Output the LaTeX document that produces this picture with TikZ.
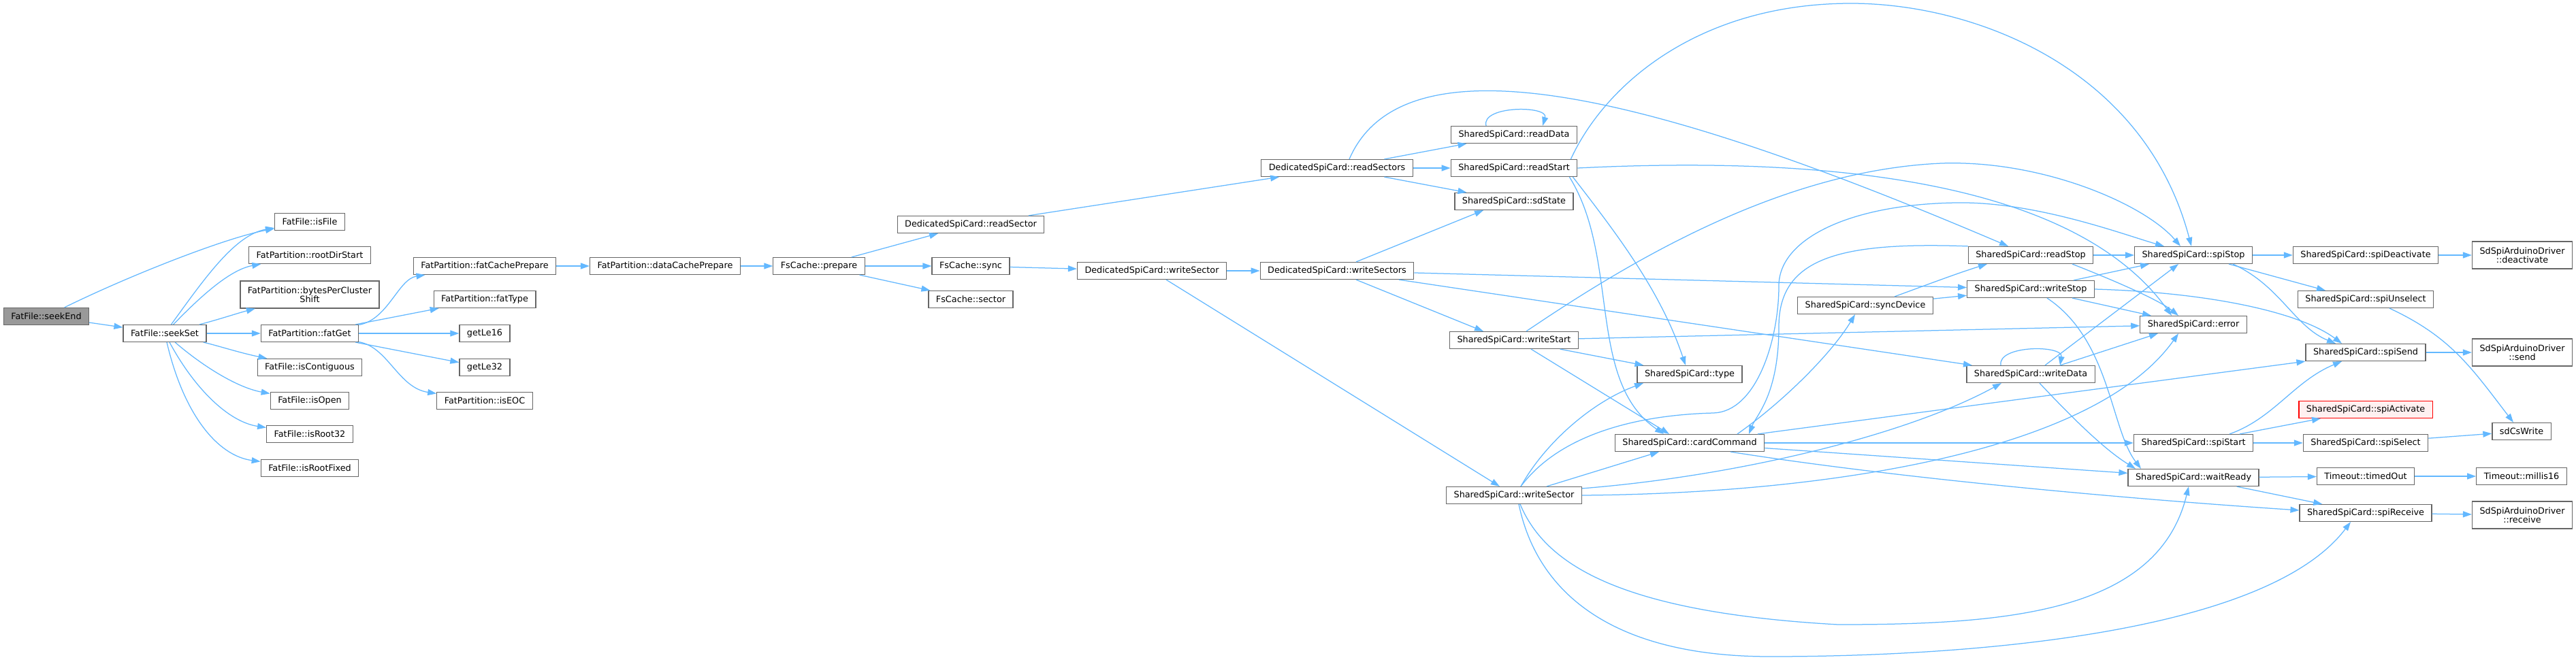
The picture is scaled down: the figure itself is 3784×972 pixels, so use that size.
\documentclass[tikz,border=0pt]{standalone}
\usepackage{fontspec}
\setmainfont{DejaVu Sans}
\usetikzlibrary{arrows.meta}
\definecolor{edgeblue}{HTML}{63B8FF}
\definecolor{boxgrey}{HTML}{666666}
\definecolor{rootgrey}{HTML}{999999}
\definecolor{missred}{HTML}{FF0000}
\definecolor{misspink}{HTML}{FFF0F0}
\tikzset{
  fnbox/.style={draw=boxgrey,fill=white,line width=1.2pt,minimum height=25pt,
    inner xsep=11pt,inner ysep=0pt,align=center,font=\fontsize{12.8pt}{13.5pt}\selectfont},
  fnroot/.style={fnbox,fill=rootgrey},
  fnmissing/.style={fnbox,draw=missred,fill=misspink},
  fntall/.style={fnbox,minimum height=40pt},
  callarrow/.style={-{Triangle[length=13pt,width=9pt]},line width=1.25pt,draw=edgeblue}
}
\begin{document}
\begin{tikzpicture}[x=1pt,y=-1pt]
\path[use as bounding box,fill=white] (0,0) rectangle (3784,972);
\node[fnroot] (seekEnd) at (68,465) {FatFile::seekEnd};
\node[fnbox] (seekSet) at (242,490) {FatFile::seekSet};
\node[fnbox] (isFile) at (455,326) {FatFile::isFile};
\node[fnbox] (rootDirStart) at (455,375) {FatPartition::rootDirStart};
\node[fntall] (bytesPerCluster) at (455,433) {FatPartition::bytesPerCluster\\Shift};
\node[fnbox] (fatGet) at (455,490) {FatPartition::fatGet};
\node[fnbox] (isContiguous) at (455,540) {FatFile::isContiguous};
\node[fnbox] (isOpen) at (455,589) {FatFile::isOpen};
\node[fnbox] (isRoot32) at (455,638) {FatFile::isRoot32};
\node[fnbox] (isRootFixed) at (455,688) {FatFile::isRootFixed};
\node[fnbox] (fatCachePrepare) at (712,391) {FatPartition::fatCachePrepare};
\node[fnbox] (fatType) at (712,440) {FatPartition::fatType};
\node[fnbox] (getLe16) at (712,490) {getLe16};
\node[fnbox] (getLe32) at (712,540) {getLe32};
\node[fnbox] (isEOC) at (712,589) {FatPartition::isEOC};
\node[fnbox] (dataCachePrepare) at (977,391) {FatPartition::dataCachePrepare};
\node[fnbox] (cachePrepare) at (1203,391) {FsCache::prepare};
\node[fnbox] (readSector) at (1426,330) {DedicatedSpiCard::readSector};
\node[fnbox] (cacheSync) at (1426,391) {FsCache::sync};
\node[fnbox] (cacheSector) at (1426,440) {FsCache::sector};
\node[fnbox] (dWriteSector) at (1692,398) {DedicatedSpiCard::writeSector};
\node[fnbox] (readSectors) at (1964,247) {DedicatedSpiCard::readSectors};
\node[fnbox] (writeSectors) at (1964,398) {DedicatedSpiCard::writeSectors};
\node[fnbox] (readData) at (2224,198) {SharedSpiCard::readData};
\node[fnbox] (readStart) at (2224,247) {SharedSpiCard::readStart};
\node[fnbox] (sdState) at (2224,296) {SharedSpiCard::sdState};
\node[fnbox] (writeStart) at (2224,500) {SharedSpiCard::writeStart};
\node[fnbox] (sWriteSector) at (2224,728) {SharedSpiCard::writeSector};
\node[fnbox] (cardType) at (2482,550) {SharedSpiCard::type};
\node[fnbox] (cardCommand) at (2482,651) {SharedSpiCard::cardCommand};
\node[fnbox] (syncDevice) at (2740,449) {SharedSpiCard::syncDevice};
\node[fnbox] (readStop) at (2983,375) {SharedSpiCard::readStop};
\node[fnbox] (writeStop) at (2983,425) {SharedSpiCard::writeStop};
\node[fnbox] (writeData) at (2983,550) {SharedSpiCard::writeData};
\node[fnbox] (spiStop) at (3222,375) {SharedSpiCard::spiStop};
\node[fnbox] (cardError) at (3222,477) {SharedSpiCard::error};
\node[fnbox] (spiStart) at (3222,651) {SharedSpiCard::spiStart};
\node[fnbox] (waitReady) at (3222,702) {SharedSpiCard::waitReady};
\node[fnbox] (spiDeactivate) at (3475,375) {SharedSpiCard::spiDeactivate};
\node[fnbox] (spiUnselect) at (3475,440) {SharedSpiCard::spiUnselect};
\node[fnbox] (spiSend) at (3475,518) {SharedSpiCard::spiSend};
\node[fnmissing] (spiActivate) at (3475,602) {SharedSpiCard::spiActivate};
\node[fnbox] (spiSelect) at (3475,651) {SharedSpiCard::spiSelect};
\node[fnbox] (timedOut) at (3475,700) {Timeout::timedOut};
\node[fnbox] (spiReceive) at (3475,754) {SharedSpiCard::spiReceive};
\node[fntall] (drvDeactivate) at (3705,375) {SdSpiArduinoDriver\\::deactivate};
\node[fntall] (drvSend) at (3705,518) {SdSpiArduinoDriver\\::send};
\node[fnbox] (sdCsWrite) at (3704,634) {sdCsWrite};
\node[fnbox] (millis16) at (3704,700) {Timeout::millis16};
\node[fntall] (drvReceive) at (3705,757) {SdSpiArduinoDriver\\::receive};
% FatFile side
\draw[callarrow] (seekEnd) .. controls (190,405) and (330,350) .. (isFile);
\draw[callarrow] (seekEnd) -- (seekSet);
\draw[callarrow] (seekSet) .. controls (300,410) and (345,345) .. (isFile);
\draw[callarrow] (seekSet) .. controls (300,430) and (340,396) .. (rootDirStart);
\draw[callarrow] (seekSet) .. controls (320,470) and (350,460) .. (bytesPerCluster);
\draw[callarrow] (seekSet) -- (fatGet);
\draw[callarrow] (seekSet) .. controls (320,508) and (350,518) .. (isContiguous);
\draw[callarrow] (seekSet) .. controls (300,540) and (350,570) .. (isOpen);
\draw[callarrow] (seekSet) .. controls (285,570) and (335,620) .. (isRoot32);
\draw[callarrow] (seekSet) .. controls (270,610) and (320,670) .. (isRootFixed);
\draw[callarrow] (fatGet) .. controls (570,470) and (585,410) .. (fatCachePrepare);
\draw[callarrow] (fatGet) -- (fatType);
\draw[callarrow] (fatGet) -- (getLe16);
\draw[callarrow] (fatGet) -- (getLe32);
\draw[callarrow] (fatGet) .. controls (570,510) and (585,570) .. (isEOC);
\draw[callarrow] (fatCachePrepare) -- (dataCachePrepare);
\draw[callarrow] (dataCachePrepare) -- (cachePrepare);
\draw[callarrow] (cachePrepare) -- (readSector);
\draw[callarrow] (cachePrepare) -- (cacheSync);
\draw[callarrow] (cachePrepare) -- (cacheSector);
\draw[callarrow] (cacheSync) -- (dWriteSector);
\draw[callarrow] (readSector) -- (readSectors);
\draw[callarrow] (dWriteSector) -- (writeSectors);
\draw[callarrow] (dWriteSector) -- (sWriteSector);
% dedicated card
\draw[callarrow] (readSectors) -- (readData);
\draw[callarrow] (readSectors) -- (readStart);
\draw[callarrow] (readSectors) -- (sdState);
\draw[callarrow] ([xshift=18pt]readSectors.north) .. controls (2070,30) and (2500,170) .. ([xshift=-33pt]readStop.north);
\draw[callarrow] ([xshift=28pt]writeSectors.north) -- ([xshift=-45pt]sdState.south);
\draw[callarrow] ([xshift=28pt]writeSectors.south) -- ([xshift=-45pt]writeStart.north);
\draw[callarrow] (writeSectors) -- (writeStop);
\draw[callarrow] ([xshift=91pt]writeSectors.south) -- ([xshift=-86pt]writeData.north);
\draw[callarrow] ([xshift=-41pt]readData.north) .. controls +(-8,-30) and +(9,-30) .. ([xshift=42pt]readData.north);
% shared card
\draw[callarrow] ([xshift=-10pt]readStart.north east) .. controls (2360,120) and (2500,5) .. (2719,5)
  .. controls (2900,5) and (3150,100) .. ([xshift=-3pt]spiStop.north);
\draw[callarrow] ([xshift=-12pt]readStart.south east) .. controls (2380,380) and (2330,560) .. ([xshift=-38pt]cardCommand.north);
\draw[callarrow] ([xshift=-7pt]readStart.south east) .. controls (2380,350) and (2440,430) .. ([xshift=-6pt]cardType.north);
\draw[callarrow] (readStart.east) .. controls (2700,228) and (3050,270) .. ([xshift=-32pt]cardError.north);
\draw[callarrow] ([xshift=18pt]writeStart.north) .. controls (2400,380) and (2620,250) .. (2852,240)
  .. controls (3000,235) and (3150,300) .. ([xshift=-19pt]spiStop.north);
\draw[callarrow] (writeStart) -- (cardError);
\draw[callarrow] (writeStart) -- (cardType);
\draw[callarrow] ([xshift=25pt]writeStart.south) -- ([xshift=-30pt]cardCommand.north);
\draw[callarrow] ([xshift=10pt]sWriteSector.north) .. controls (2270,650) and (2340,590) .. ([xshift=-68pt]cardType.south);
\draw[callarrow] ([xshift=48pt]sWriteSector.north) -- ([xshift=-45pt]cardCommand.south);
\draw[callarrow] ([yshift=-3pt]sWriteSector.north east) .. controls (2550,700) and (2800,640) .. ([xshift=-43pt]writeData.south);
\draw[callarrow] (sWriteSector.east) .. controls (2700,725) and (3080,660) .. ([xshift=-22pt]cardError.south);
\draw[callarrow] ([xshift=10pt]sWriteSector.north) .. controls (2290,640) and (2400,610) .. (2517,607)
  .. controls (2580,605) and (2613,500) .. (2613,420)
  .. controls (2613,350) and (2720,300) .. (2874,298)
  .. controls (2990,296) and (3120,345) .. ([xshift=-43pt]spiStop.north);
\draw[callarrow] ([xshift=9pt]sWriteSector.south) .. controls (2270,830) and (2380,900) .. (2700,918)
  .. controls (2950,918) and (3170,900) .. ([xshift=-7pt]waitReady.south);
\draw[callarrow] ([xshift=7pt]sWriteSector.south) .. controls (2260,880) and (2380,965) .. (2600,965)
  .. controls (2900,965) and (3330,930) .. ([xshift=-22pt]spiReceive.south);
\draw[callarrow] ([xshift=70pt]cardCommand.north) .. controls (2620,590) and (2690,520) .. ([xshift=-15pt]syncDevice.south);
\draw[callarrow] (cardCommand) -- (spiStart);
\draw[callarrow] (cardCommand) -- (waitReady);
\draw[callarrow] ([xshift=100pt]cardCommand.north) -- (spiSend.south west);
\draw[callarrow] ([xshift=60pt]cardCommand.south) .. controls (2800,705) and (3150,735) .. ([yshift=4pt]spiReceive.west);
\draw[callarrow] ([xshift=43pt]syncDevice.north) .. controls (2840,415) and (2880,400) .. ([xshift=-64pt]readStop.south);
\draw[callarrow] (syncDevice) -- (writeStop);
\draw[callarrow] (readStop) -- (spiStop);
\draw[callarrow] ([xshift=61pt]readStop.south) .. controls (3100,410) and (3170,440) .. ([xshift=-22pt]cardError.north);
\draw[callarrow] (readStop.north west) .. controls (2700,355) and (2613,380) .. (2613,480)
  .. controls (2613,580) and (2580,610) .. ([xshift=87pt]cardCommand.north);
\draw[callarrow] ([xshift=63pt]writeStop.north) -- ([xshift=-65pt]spiStop.south);
\draw[callarrow] (writeStop.east) .. controls (3250,430) and (3380,460) .. ([xshift=-35pt]spiSend.north);
\draw[callarrow] ([xshift=61pt]writeStop.south) -- ([xshift=-62pt]cardError.north);
\draw[callarrow] ([xshift=24pt]writeStop.south) .. controls (3100,500) and (3100,630) .. ([xshift=-77pt]waitReady.north);
\draw[callarrow] ([xshift=-44pt]writeData.north) .. controls +(-5,-30) and +(5,-30) .. ([xshift=43pt]writeData.north);
\draw[callarrow] ([xshift=21pt]writeData.north) -- ([xshift=-22pt]spiStop.south);
\draw[callarrow] ([xshift=43pt]writeData.north) -- ([xshift=-52pt]cardError.south);
\draw[callarrow] ([xshift=13pt]writeData.south) .. controls (3040,610) and (3090,660) .. ([xshift=-85pt]waitReady.north);
% spi layer
\draw[callarrow] (spiStop) -- (spiDeactivate);
\draw[callarrow] ([xshift=52pt]spiStop.south) -- ([xshift=-59pt]spiUnselect.north);
\draw[callarrow] ([xshift=58pt]spiStop.south) .. controls (3350,420) and (3370,480) .. ([xshift=-44pt]spiSend.north);
\draw[callarrow] ([xshift=68pt]spiStart.north) -- ([xshift=-66pt]spiActivate.south);
\draw[callarrow] (spiStart) -- (spiSelect);
\draw[callarrow] ([xshift=53pt]spiStart.north) .. controls (3340,615) and (3370,560) .. ([xshift=-35pt]spiSend.south);
\draw[callarrow] (spiDeactivate) -- (drvDeactivate);
\draw[callarrow] ([xshift=35pt]spiUnselect.south) .. controls (3600,495) and (3630,540) .. ([xshift=-12pt]sdCsWrite.north);
\draw[callarrow] (spiSend) -- (drvSend);
\draw[callarrow] (spiSelect) -- (sdCsWrite);
\draw[callarrow] (waitReady) -- (timedOut);
\draw[callarrow] (waitReady) -- (spiReceive);
\draw[callarrow] (timedOut) -- (millis16);
\draw[callarrow] (spiReceive) -- (drvReceive);
\end{tikzpicture}
\end{document}
